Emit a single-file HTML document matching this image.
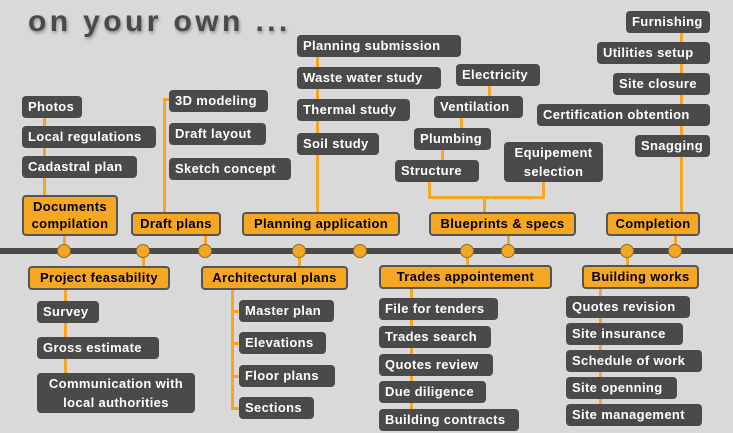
<!DOCTYPE html>
<html><head><style>
body{margin:0;width:733px;height:433px;background:#d9d9d9;position:relative;overflow:hidden;font-family:"Liberation Sans",sans-serif;font-weight:bold}
.t{position:absolute;left:28px;top:5px;font-size:30px;color:#4a4a4a;letter-spacing:3.4px;text-shadow:1px 2px 3px rgba(0,0,0,.35)}
.d,.o{position:absolute;box-sizing:border-box;font-size:13px;letter-spacing:.35px;border-radius:4px;white-space:nowrap}
.d{background:#4a4a4a;color:#fff;padding-left:6px;line-height:22px;height:22px}
.o{background:#f5a623;color:#000;border:2px solid #555;text-align:center;line-height:19px;height:24px}
.l{position:absolute;background:#f5a623}
.c{position:absolute;width:14px;height:14px;border-radius:50%;background:#f5a623;border:1px solid #8a6a30;box-sizing:border-box;top:244px}
</style></head><body>
<div class="t">on your own ...</div>
<div class="l" style="left:43px;top:100px;width:3px;height:96px"></div>
<div class="l" style="left:163px;top:98px;width:3px;height:115px"></div>
<div class="l" style="left:163px;top:98px;width:8px;height:3px"></div>
<div class="l" style="left:316px;top:40px;width:3px;height:173px"></div>
<div class="l" style="left:488px;top:80px;width:3px;height:20px"></div>
<div class="l" style="left:460px;top:112px;width:3px;height:20px"></div>
<div class="l" style="left:441px;top:144px;width:3px;height:20px"></div>
<div class="l" style="left:428px;top:180px;width:3px;height:18px"></div>
<div class="l" style="left:542px;top:180px;width:3px;height:18px"></div>
<div class="l" style="left:428px;top:196px;width:117px;height:3px"></div>
<div class="l" style="left:483px;top:196px;width:3px;height:17px"></div>
<div class="l" style="left:680px;top:22px;width:3px;height:191px"></div>
<div class="l" style="left:63px;top:233px;width:3px;height:14px"></div>
<div class="l" style="left:204px;top:233px;width:3px;height:14px"></div>
<div class="l" style="left:142px;top:254px;width:3px;height:13px"></div>
<div class="l" style="left:298px;top:254px;width:3px;height:13px"></div>
<div class="l" style="left:507px;top:233px;width:3px;height:14px"></div>
<div class="l" style="left:466px;top:254px;width:3px;height:13px"></div>
<div class="l" style="left:674px;top:233px;width:3px;height:14px"></div>
<div class="l" style="left:626px;top:254px;width:3px;height:13px"></div>
<div class="l" style="left:64px;top:288px;width:3px;height:100px"></div>
<div class="l" style="left:231px;top:288px;width:3px;height:122px"></div>
<div class="l" style="left:231px;top:310px;width:10px;height:3px"></div>
<div class="l" style="left:231px;top:342px;width:10px;height:3px"></div>
<div class="l" style="left:231px;top:375px;width:10px;height:3px"></div>
<div class="l" style="left:231px;top:407px;width:10px;height:3px"></div>
<div class="l" style="left:410px;top:288px;width:3px;height:125px"></div>
<div class="l" style="left:599px;top:288px;width:3px;height:120px"></div>
<div style="position:absolute;left:0;top:248px;width:733px;height:6px;background:#4a4a4a"></div>
<div class="c" style="left:57px"></div><div class="c" style="left:136px"></div><div class="c" style="left:198px"></div>
<div class="c" style="left:292px"></div><div class="c" style="left:353px"></div><div class="c" style="left:460px"></div>
<div class="c" style="left:501px"></div><div class="c" style="left:620px"></div><div class="c" style="left:668px"></div>
<div class="o" style="left:22px;top:195px;width:96px;height:41px;line-height:17px;padding-top:1px">Documents<br>compilation</div>
<div class="o" style="left:131px;top:212px;width:90px">Draft plans</div>
<div class="o" style="left:242px;top:212px;width:158px">Planning application</div>
<div class="o" style="left:429px;top:212px;width:147px">Blueprints &amp; specs</div>
<div class="o" style="left:606px;top:212px;width:94px">Completion</div>
<div class="o" style="left:28px;top:266px;width:142px">Project feasability</div>
<div class="o" style="left:201px;top:266px;width:147px">Architectural plans</div>
<div class="o" style="left:379px;top:265px;width:173px">Trades appointement</div>
<div class="o" style="left:582px;top:265px;width:117px">Building works</div>
<div class="d" style="left:22px;top:96px;width:60px">Photos</div>
<div class="d" style="left:22px;top:126px;width:134px">Local regulations</div>
<div class="d" style="left:22px;top:156px;width:115px">Cadastral plan</div>
<div class="d" style="left:169px;top:90px;width:99px">3D modeling</div>
<div class="d" style="left:169px;top:123px;width:97px">Draft layout</div>
<div class="d" style="left:169px;top:158px;width:122px">Sketch concept</div>
<div class="d" style="left:297px;top:35px;width:164px">Planning submission</div>
<div class="d" style="left:297px;top:67px;width:144px">Waste water study</div>
<div class="d" style="left:297px;top:99px;width:113px">Thermal study</div>
<div class="d" style="left:297px;top:133px;width:82px">Soil study</div>
<div class="d" style="left:456px;top:64px;width:84px">Electricity</div>
<div class="d" style="left:434px;top:96px;width:89px">Ventilation</div>
<div class="d" style="left:414px;top:128px;width:77px">Plumbing</div>
<div class="d" style="left:395px;top:160px;width:84px">Structure</div>
<div class="d" style="left:504px;top:142px;width:99px;height:40px;line-height:19px;padding:1px 0 0;text-align:center">Equipement<br>selection</div>
<div class="d" style="left:626px;top:11px;width:84px">Furnishing</div>
<div class="d" style="left:597px;top:42px;width:113px">Utilities setup</div>
<div class="d" style="left:613px;top:73px;width:97px">Site closure</div>
<div class="d" style="left:537px;top:104px;width:173px">Certification obtention</div>
<div class="d" style="left:635px;top:135px;width:75px">Snagging</div>
<div class="d" style="left:37px;top:301px;width:62px">Survey</div>
<div class="d" style="left:37px;top:337px;width:122px">Gross estimate</div>
<div class="d" style="left:37px;top:373px;width:158px;height:40px;line-height:19px;padding:1px 0 0;text-align:center">Communication with<br>local authorities</div>
<div class="d" style="left:239px;top:300px;width:95px">Master plan</div>
<div class="d" style="left:239px;top:332px;width:87px">Elevations</div>
<div class="d" style="left:239px;top:365px;width:96px">Floor plans</div>
<div class="d" style="left:239px;top:397px;width:75px">Sections</div>
<div class="d" style="left:379px;top:298px;width:119px">File for tenders</div>
<div class="d" style="left:379px;top:326px;width:112px">Trades search</div>
<div class="d" style="left:379px;top:354px;width:114px">Quotes review</div>
<div class="d" style="left:379px;top:381px;width:107px">Due diligence</div>
<div class="d" style="left:379px;top:409px;width:140px">Building contracts</div>
<div class="d" style="left:566px;top:296px;width:124px">Quotes revision</div>
<div class="d" style="left:566px;top:323px;width:117px">Site insurance</div>
<div class="d" style="left:566px;top:350px;width:136px">Schedule of work</div>
<div class="d" style="left:566px;top:377px;width:111px">Site openning</div>
<div class="d" style="left:566px;top:404px;width:136px">Site management</div>
</body></html>
